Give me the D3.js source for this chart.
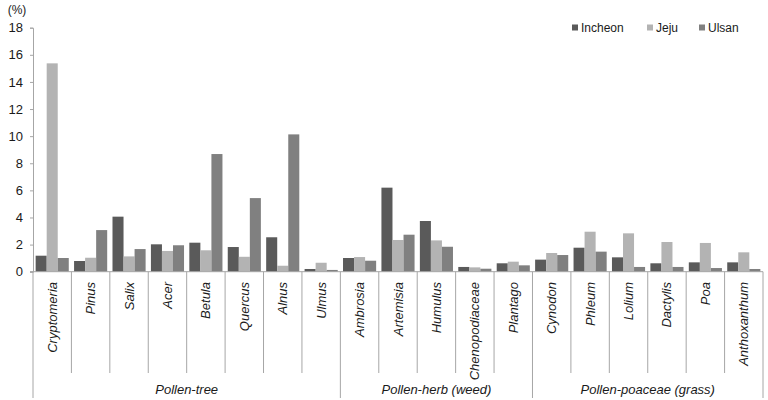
<!DOCTYPE html>
<html>
<head>
<meta charset="utf-8">
<script src="https://cdn.jsdelivr.net/npm/d3@7"></script>
<style>
  body { margin: 0; background: #fff; }
  svg { display: block; font-family: "Liberation Sans", Arial, sans-serif; }
</style>
</head>
<body>
<div id="chart"></div>
<script>
// ---- data ---------------------------------------------------------------
const taxa = ['Cryptomeria', 'Pinus', 'Salix', 'Acer', 'Betula', 'Quercus', 'Alnus', 'Ulmus',
              'Ambrosia', 'Artemisia', 'Humulus', 'Chenopodiaceae', 'Plantago',
              'Cynodon', 'Phleum', 'Lolium', 'Dactylis', 'Poa', 'Anthoxanthum'];
const groups = ['Pollen-tree', 'Pollen-herb (weed)', 'Pollen-poaceae (grass)'];
const groupSizes = [8, 5, 6];
const cities = ['Incheon', 'Jeju', 'Ulsan'];
const incheon = [1.18, 0.79, 4.06, 2.02, 2.14, 1.82, 2.54, 0.20, 1.01, 6.20, 3.74, 0.35, 0.62, 0.89, 1.77, 1.06, 0.62, 0.69, 0.69];
const jeju    = [15.37, 1.03, 1.13, 1.53, 1.58, 1.10, 0.44, 0.66, 1.08, 2.34, 2.31, 0.32, 0.74, 1.38, 2.95, 2.83, 2.19, 2.12, 1.43];
const ulsan   = [1.01, 3.07, 1.67, 1.95, 8.68, 5.43, 10.13, 0.13, 0.81, 2.73, 1.84, 0.22, 0.47, 1.23, 1.48, 0.35, 0.35, 0.27, 0.20];
const yTicks  = [0, 2, 4, 6, 8, 10, 12, 14, 16, 18];

// ---- layout -------------------------------------------------------------
const W = 768, H = 400;
const plotLeft = 33, plotRight = 763, plotTop = 27.7, zeroY = 271.7;
const colors = { Incheon: '#5a5a5a', Jeju: '#b3b3b3', Ulsan: '#808080' };
const lineCol = '#a6a6a6';
const series = { Incheon: incheon, Jeju: jeju, Ulsan: ulsan };

const svg = d3.select('#chart').append('svg')
    .attr('width', W).attr('height', H);

const x = d3.scaleBand().domain(taxa).range([plotLeft, plotRight]).paddingInner(0).paddingOuter(0);
const xInner = d3.scaleBand().domain(cities)
    .range([0, x.bandwidth()]).paddingInner(0).paddingOuter(0.24);
const y = d3.scaleLinear().domain([0, 18]).range([zeroY, plotTop]);

// y axis
const yAxis = svg.append('g')
    .attr('transform', `translate(${plotLeft},0)`)
    .call(d3.axisLeft(y).tickValues(yTicks).tickSize(3).tickPadding(7));
yAxis.select('.domain').attr('stroke', lineCol);
yAxis.selectAll('.tick line').attr('stroke', lineCol);
yAxis.selectAll('.tick text')
    .attr('font-size', 13).attr('fill', '#1a1a1a')
    .attr('font-family', '"Liberation Sans", Arial, sans-serif');

svg.append('text')
    .attr('x', 17).attr('y', 14)
    .attr('text-anchor', 'middle')
    .attr('font-size', 12).attr('fill', '#1a1a1a')
    .text('(%)');

// bars
const barG = svg.append('g');
taxa.forEach((t, i) => {
    cities.forEach(c => {
        const v = series[c][i];
        barG.append('rect')
            .attr('x', x(t) + xInner(c))
            .attr('y', y(v))
            .attr('width', xInner.bandwidth())
            .attr('height', zeroY - y(v))
            .attr('fill', colors[c]);
    });
});

// x axis line
svg.append('line')
    .attr('x1', plotLeft - 3).attr('x2', plotRight)
    .attr('y1', zeroY).attr('y2', zeroY)
    .attr('stroke', lineCol);

// category separators + group separators
const groupEdges = [0];
groupSizes.reduce((acc, n) => { groupEdges.push(acc + n); return acc + n; }, 0);
for (let i = 0; i <= taxa.length; i++) {
    const xp = i < taxa.length ? x(taxa[i]) : plotRight;
    const isGroup = groupEdges.includes(i);
    svg.append('line')
        .attr('x1', xp).attr('x2', xp)
        .attr('y1', zeroY).attr('y2', isGroup ? 398 : 373)
        .attr('stroke', lineCol);
}

// category labels (rotated)
svg.append('g').selectAll('text')
    .data(taxa)
    .join('text')
    .attr('transform', d => `translate(${x(d) + x.bandwidth() / 2 + 4.5},282) rotate(-90)`)
    .attr('text-anchor', 'end')
    .attr('font-size', 13).attr('font-style', 'italic')
    .attr('fill', '#1a1a1a')
    .text(d => d);

// group labels
groups.forEach((g, gi) => {
    const a = groupEdges[gi], b = groupEdges[gi + 1];
    const x0 = x(taxa[a]);
    const x1 = b < taxa.length ? x(taxa[b]) : plotRight;
    svg.append('text')
        .attr('x', (x0 + x1) / 2).attr('y', 394)
        .attr('text-anchor', 'middle')
        .attr('font-size', 13).attr('font-style', 'italic')
        .attr('fill', '#1a1a1a')
        .text(g);
});

// legend
const legendX = { Incheon: 572, Jeju: 647, Ulsan: 699 };
cities.forEach(c => {
    svg.append('rect')
        .attr('x', legendX[c]).attr('y', 24.5)
        .attr('width', 6).attr('height', 6)
        .attr('fill', colors[c]);
    svg.append('text')
        .attr('x', legendX[c] + 9).attr('y', 32)
        .attr('font-size', 12).attr('fill', '#1a1a1a')
        .text(c);
});
</script>
</body>
</html>
